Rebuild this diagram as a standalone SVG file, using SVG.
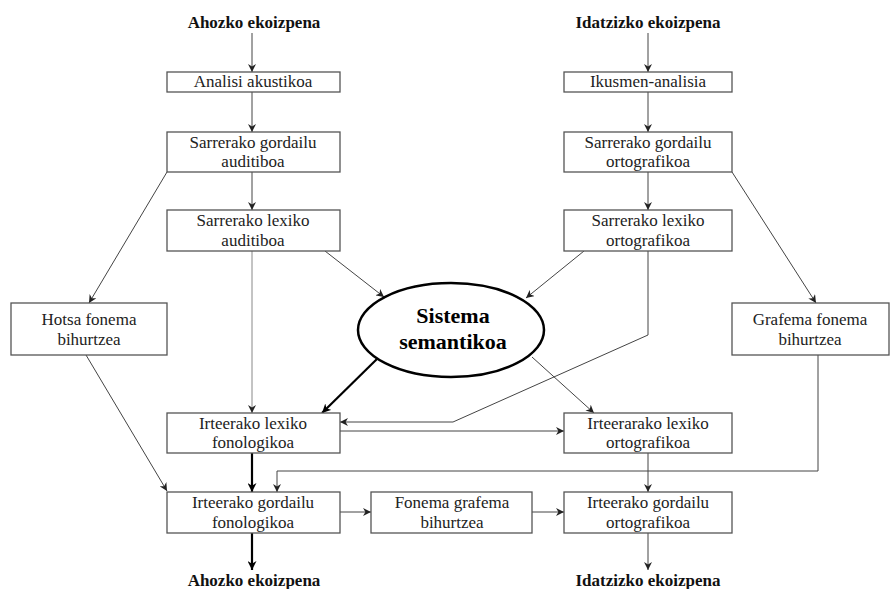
<svg xmlns="http://www.w3.org/2000/svg" width="890" height="589" viewBox="0 0 890 589">
<defs>
<marker id="ah" viewBox="0 0 10 10" refX="10" refY="5" markerWidth="8" markerHeight="8" markerUnits="userSpaceOnUse" orient="auto"><path d="M0,0 L10,5 L0,10 L3,5 z" fill="#222"/></marker>
<marker id="ahb" viewBox="0 0 10 10" refX="10" refY="5" markerWidth="9" markerHeight="9" markerUnits="userSpaceOnUse" orient="auto"><path d="M0,0 L10,5 L0,10 L3,5 z" fill="#000"/></marker>
</defs>
<style>
.box{fill:#fff;stroke:#555;stroke-width:1.3}
.t{font-family:"Liberation Serif","DejaVu Serif",serif;font-size:17px;fill:#222;text-anchor:middle}
.title{font-family:"Liberation Serif","DejaVu Serif",serif;font-size:17px;font-weight:bold;fill:#111;text-anchor:middle}
.sem{font-family:"Liberation Serif","DejaVu Serif",serif;font-size:22px;font-weight:bold;fill:#000;text-anchor:middle}
.c{fill:none;stroke:#444;stroke-width:1;marker-end:url(#ah)}
.cb{fill:none;stroke:#000;stroke-width:2.2;marker-end:url(#ahb)}
</style>
<rect width="890" height="589" fill="#fff"/>
<g id="connectors">
<path class="c" d="M252,33 V72"/>
<path class="c" d="M252,92 V132"/>
<path class="c" d="M252,172 V210"/>
<path class="c" d="M167,172 L89,303"/>
<path class="c" d="M252,251 V413" style="stroke:#888"/>
<path class="c" d="M325,251 L384,297"/>
<path class="c" d="M86,355 L167,491"/>
<path class="cb" d="M378,358 L322,413"/>
<path class="cb" d="M252,453 V492"/>
<path class="cb" d="M252,533 V570"/>
<path class="c" d="M340,512 H371"/>
<path class="c" d="M532,512 H564"/>
<path class="c" d="M340,431 H564"/>
<path class="c" d="M648,251 V335 L453,422 H340"/>
<path class="c" d="M584,251 L526,298"/>
<path class="c" d="M532,357 L594,413"/>
<path class="c" d="M648,33 V72"/>
<path class="c" d="M648,92 V132"/>
<path class="c" d="M648,172 V210"/>
<path class="c" d="M732,172 L816,303"/>
<path class="c" d="M818,355 V471 H277 V492"/>
<path class="c" d="M648,453 V492"/>
<path class="c" d="M648,533 V570"/>
</g>
<g id="title-ahozko-top"><text class="title" x="254" y="28">Ahozko ekoizpena</text></g>
<g id="title-idatzizko-top"><text class="title" x="648" y="28">Idatzizko ekoizpena</text></g>
<g id="analisi-akustikoa"><rect class="box" x="167" y="72" width="173" height="20"/><text class="t" x="253" y="87">Analisi akustikoa</text></g>
<g id="ikusmen-analisia"><rect class="box" x="564" y="72" width="168" height="20"/><text class="t" x="648" y="87">Ikusmen-analisia</text></g>
<g id="sarr-gordailu-aud"><rect class="box" x="167" y="132" width="173" height="40"/><text class="t" x="253" y="148">Sarrerako gordailu</text><text class="t" x="253" y="167">auditiboa</text></g>
<g id="sarr-gordailu-orto"><rect class="box" x="564" y="132" width="168" height="40"/><text class="t" x="648" y="148">Sarrerako gordailu</text><text class="t" x="648" y="167">ortografikoa</text></g>
<g id="sarr-lexiko-aud"><rect class="box" x="167" y="210" width="173" height="41"/><text class="t" x="253" y="226">Sarrerako lexiko</text><text class="t" x="253" y="246">auditiboa</text></g>
<g id="sarr-lexiko-orto"><rect class="box" x="564" y="210" width="168" height="41"/><text class="t" x="648" y="226">Sarrerako lexiko</text><text class="t" x="648" y="246">ortografikoa</text></g>
<g id="hotsa-fonema"><rect class="box" x="11" y="303" width="156" height="52"/><text class="t" x="89" y="325">Hotsa fonema</text><text class="t" x="89" y="345">bihurtzea</text></g>
<g id="grafema-fonema"><rect class="box" x="732" y="303" width="157" height="52"/><text class="t" x="810" y="325">Grafema fonema</text><text class="t" x="810" y="345">bihurtzea</text></g>
<g id="sistema-semantikoa"><ellipse cx="451" cy="330" rx="93" ry="47" fill="#fff" stroke="#000" stroke-width="2.5"/><text class="sem" x="453" y="323">Sistema</text><text class="sem" x="453" y="349">semantikoa</text></g>
<g id="irt-lexiko-fono"><rect class="box" x="167" y="413" width="173" height="40"/><text class="t" x="253" y="429">Irteerako lexiko</text><text class="t" x="253" y="448">fonologikoa</text></g>
<g id="irt-lexiko-orto"><rect class="box" x="564" y="413" width="168" height="40"/><text class="t" x="648" y="429">Irteerarako lexiko</text><text class="t" x="648" y="448">ortografikoa</text></g>
<g id="irt-gordailu-fono"><rect class="box" x="167" y="492" width="173" height="41"/><text class="t" x="253" y="508">Irteerako gordailu</text><text class="t" x="253" y="528">fonologikoa</text></g>
<g id="fonema-grafema"><rect class="box" x="371" y="492" width="161" height="41"/><text class="t" x="452" y="508">Fonema grafema</text><text class="t" x="452" y="528">bihurtzea</text></g>
<g id="irt-gordailu-orto"><rect class="box" x="564" y="492" width="168" height="41"/><text class="t" x="648" y="508">Irteerako gordailu</text><text class="t" x="648" y="528">ortografikoa</text></g>
<g id="title-ahozko-bottom"><text class="title" x="254" y="586">Ahozko ekoizpena</text></g>
<g id="title-idatzizko-bottom"><text class="title" x="648" y="586">Idatzizko ekoizpena</text></g>
</svg>
